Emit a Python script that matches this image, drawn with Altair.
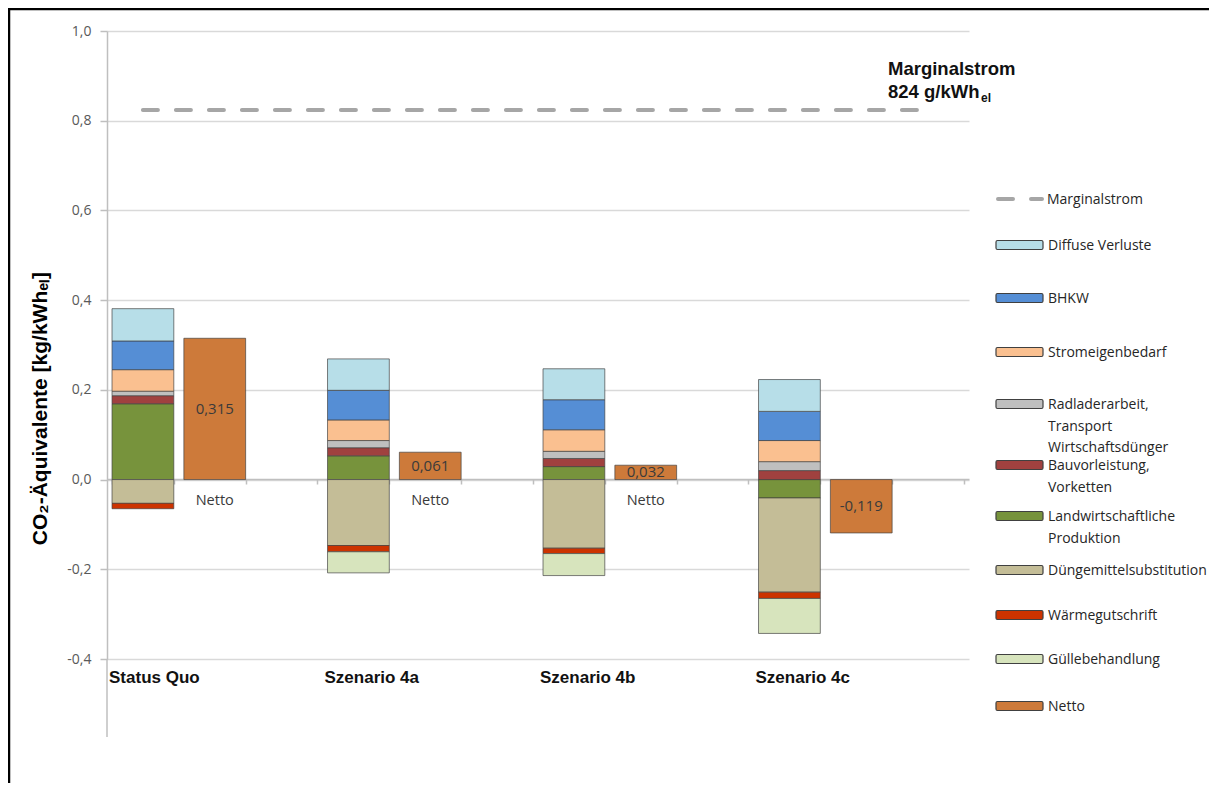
import altair as alt
import pandas as pd

# ---------------- data ----------------
scenarios = ["Status Quo", "Szenario 4a", "Szenario 4b", "Szenario 4c"]

diffuse = [0.072, 0.070, 0.069, 0.071]
bhkw = [0.064, 0.066, 0.067, 0.065]
strom = [0.048, 0.046, 0.048, 0.047]
radlader = [0.010, 0.016, 0.016, 0.020]
bau = [0.018, 0.018, 0.018, 0.020]
landw = [0.169, 0.053, 0.029, -0.041]
duenge = [-0.053, -0.147, -0.153, -0.210]
waerme = [-0.012, -0.014, -0.012, -0.014]
guelle = [0.0, -0.047, -0.049, -0.078]
netto = [0.315, 0.061, 0.032, -0.119]
marginalstrom = 0.824

legend_labels = [
    "Diffuse Verluste",
    "BHKW",
    "Stromeigenbedarf",
    "Radladerarbeit,\nTransport\nWirtschaftsdünger",
    "Bauvorleistung,\nVorketten",
    "Landwirtschaftliche\nProduktion",
    "Düngemittelsubstitution",
    "Wärmegutschrift",
    "Güllebehandlung",
    "Netto",
]
comp_names = [
    "Diffuse Verluste", "BHKW", "Stromeigenbedarf", "Radladerarbeit",
    "Bauvorleistung", "Landwirtschaftliche Produktion",
    "Düngemittelsubstitution", "Wärmegutschrift", "Güllebehandlung", "Netto",
]
palette = ["#B7DEE8", "#558ED5", "#FAC090", "#BFBFBF", "#A0413F",
           "#77933C", "#C4BD97", "#CC3300", "#D7E4BD", "#CD7A3A"]

# stacking order (bottom-up for positives, top-down for negatives)
stack_order = [
    ("Landwirtschaftliche Produktion", landw),
    ("Bauvorleistung", bau),
    ("Radladerarbeit", radlader),
    ("Stromeigenbedarf", strom),
    ("BHKW", bhkw),
    ("Diffuse Verluste", diffuse),
    ("Düngemittelsubstitution", duenge),
    ("Wärmegutschrift", waerme),
    ("Güllebehandlung", guelle),
]

slots = []
for s in scenarios:
    slots += [s, s + " Netto", s + " leer"]

rows = []
for i, s in enumerate(scenarios):
    pos, neg = 0.0, 0.0
    for comp, vals in stack_order:
        v = vals[i]
        if v == 0:
            continue
        if v > 0:
            rows.append(dict(slot=s, comp=comp, y0=pos, y1=pos + v))
            pos += v
        else:
            rows.append(dict(slot=s, comp=comp, y0=neg, y1=neg + v))
            neg += v
    rows.append(dict(slot=s + " Netto", comp="Netto", y0=0.0, y1=netto[i]))
bars_df = pd.DataFrame(rows)

netto_df = pd.DataFrame({
    "slot": [s + " Netto" for s in scenarios],
    "val": netto,
    "mid": [v / 2 for v in netto],
    "label": [f"{v:.3f}".replace(".", ",") for v in netto],
})
netto_txt_df = netto_df[netto_df["val"] > 0].assign(zero=0.0)
scen_df = pd.DataFrame({"slot": scenarios, "name": scenarios, "bottom": -0.4})
marg_df = pd.DataFrame({"slot": slots, "v": marginalstrom})

# ---------------- scales / helpers ----------------
GRID = "#D9D9D9"
AX = "#BFBFBF"
xscale = alt.Scale(domain=slots, paddingInner=0.14, paddingOuter=0.07)
yscale = alt.Scale(domain=[-0.4, 1.0], nice=False, zero=False)
yaxis = alt.Axis(
    values=[-0.4, -0.2, 0.0, 0.2, 0.4, 0.6, 0.8, 1.0],
    labelExpr="replace(replace(format(datum.value, '.1f'), '.', ','), '\u2212', '-')",
    labelFont="Open Sans", labelFontSize=14, labelColor="#595959", labelPadding=9,
    tickSize=7, tickColor=AX, tickWidth=1.5, domainColor=AX, domainWidth=1.5,
    gridColor=GRID, gridWidth=1.5,
    title="CO₂-Äquivalente [kg/kWhₑₗ]",
    titleFont="Liberation Sans", titleFontSize=21, titleFontWeight="bold",
    titleColor="#000000", titleAngle=270, titleX=-67, titleY=377,
    titleAlign="center", titleBaseline="middle",
)
xaxis = alt.Axis(
    offset=-180, labels=False, title=None, tickBand="extent", tickSize=5,
    tickColor=AX, tickWidth=1.5, domainColor=AX, domainWidth=1.5, grid=False,
)


def X(**kw):
    return alt.X("slot:N", scale=xscale, axis=xaxis, **kw)


def Y(field):
    return alt.Y(field, type="quantitative", scale=yscale, axis=yaxis)


color_scale = alt.Scale(domain=comp_names, range=palette)

bars = alt.Chart(bars_df).mark_bar(
    stroke="#404040", strokeWidth=0.8, strokeOpacity=0.85
).encode(
    x=X(), y=Y("y0"), y2="y1",
    color=alt.Color("comp:N", scale=color_scale, legend=None),
)

marg_line = alt.Chart(marg_df).mark_line(
    color="#A6A6A6", strokeWidth=4, strokeDash=[15, 18], strokeCap="round"
).encode(x=X(), y=Y("v"))

val_txt = alt.Chart(netto_df).mark_text(
    font="Open Sans", fontSize=15, color="#3A3A3A"
).encode(x=X(), y=Y("mid"), text="label:N")

netto_txt = alt.Chart(netto_txt_df).mark_text(
    font="Open Sans", fontSize=14.5, color="#3A3A3A", dy=21
).encode(x=X(), y=Y("zero"), text=alt.value("Netto"))

scen_txt = alt.Chart(scen_df).mark_text(
    font="Liberation Sans", fontSize=17, fontWeight="bold", color="#111111",
    align="left", dy=19, dx=-3
).encode(x=X(bandPosition=0), y=Y("bottom"), text="name:N")

main = alt.layer(bars, marg_line, val_txt, netto_txt, scen_txt)

# ---------------- legend & annotations (pixel layout) ----------------
OX, OY = 107, 31  # plot origin on page
legend_row_y = [245, 298, 352, 404, 465, 516, 570, 615, 659, 706]
leg_df = pd.DataFrame({
    "label": legend_labels,
    "col": palette,
    "x0": 996 - OX, "x1": 1043 - OX,
    "y0": [y - 4.5 - OY for y in legend_row_y],
    "y1": [y + 4.5 - OY for y in legend_row_y],
    "tx": 1048 - OX,
    "ty": [y + 5 - OY for y in legend_row_y],
})
PX = dict(scale=None, axis=None)

leg_rect = alt.Chart(leg_df).mark_rect(
    stroke="#404040", strokeWidth=1.2, cornerRadius=1.5
).encode(
    x=alt.X("x0:Q", **PX), x2="x1", y=alt.Y("y0:Q", **PX), y2="y1",
    color=alt.Color("col:N", scale=None),
)
leg_text = alt.Chart(leg_df).mark_text(
    align="left", baseline="alphabetic", lineBreak="\n", lineHeight=21.5,
    font="Open Sans", fontSize=14, color="#262626"
).encode(x=alt.X("tx:Q", **PX), y=alt.Y("ty:Q", **PX), text="label:N")

one = pd.DataFrame({"a": [0]})
leg_dash = alt.Chart(one).mark_rule(
    color="#A6A6A6", strokeWidth=4, strokeDash=[15, 18], strokeCap="round"
).encode(x=alt.value(998 - OX), x2=alt.value(1042 - OX), y=alt.value(199 - OY))
leg_dash_text = alt.Chart(one).mark_text(
    align="left", baseline="alphabetic", font="Open Sans", fontSize=14, color="#262626"
).encode(x=alt.value(1047 - OX), y=alt.value(204 - OY), text=alt.value("Marginalstrom"))

ann1 = alt.Chart(one).mark_text(
    align="left", baseline="alphabetic", font="Liberation Sans", fontSize=18.5,
    fontWeight="bold", color="#111111"
).encode(x=alt.value(888 - OX), y=alt.value(75 - OY), text=alt.value("Marginalstrom"))
ann2 = alt.Chart(one).mark_text(
    align="left", baseline="alphabetic", font="Liberation Sans", fontSize=18.5,
    fontWeight="bold", color="#111111"
).encode(x=alt.value(888 - OX), y=alt.value(98 - OY), text=alt.value("824 g/kWh"))
ann3 = alt.Chart(one).mark_text(
    align="left", baseline="alphabetic", font="Liberation Sans", fontSize=12,
    fontWeight="bold", color="#111111"
).encode(x=alt.value(981 - OX), y=alt.value(102 - OY), text=alt.value("el"))

yext = alt.Chart(one).mark_rule(color=AX, strokeWidth=1.5).encode(
    x=alt.value(0), y=alt.value(628), y2=alt.value(706)
)
border_left = alt.Chart(one).mark_rule(color="#000000", strokeWidth=2.5).encode(
    x=alt.value(-98), y=alt.value(-23), y2=alt.value(800)
)
border_top = alt.Chart(one).mark_rule(color="#000000", strokeWidth=2.5).encode(
    x=alt.value(-99), x2=alt.value(1200), y=alt.value(-22)
)

deco = alt.layer(leg_rect, leg_text, leg_dash, leg_dash_text, ann1, ann2, ann3,
                 yext, border_left, border_top)

chart = alt.layer(main, deco).resolve_scale(
    x="independent", y="independent"
).properties(
    width=862, height=628,
    padding={"left": 99, "top": 23, "right": 240, "bottom": 124},
    autosize="none",
    background="white",
).configure_view(stroke=None)

chart.save("out.html", embed_options={"renderer": "svg", "actions": False})
